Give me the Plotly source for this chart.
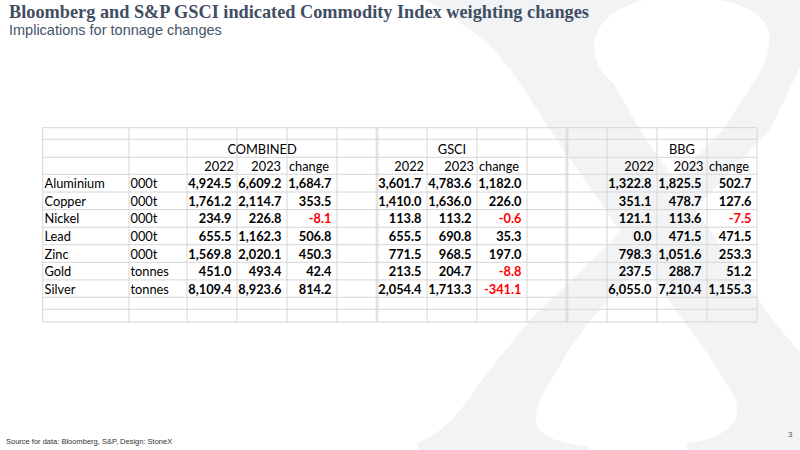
import plotly.graph_objects as go

# ---------------- data ----------------
metals = ["Aluminium", "Copper", "Nickel", "Lead", "Zinc", "Gold", "Silver"]
units = ["000t", "000t", "000t", "000t", "000t", "tonnes", "tonnes"]

combined_2022 = [4924.5, 1761.2, 234.9, 655.5, 1569.8, 451.0, 8109.4]
combined_2023 = [6609.2, 2114.7, 226.8, 1162.3, 2020.1, 493.4, 8923.6]
combined_change = [1684.7, 353.5, -8.1, 506.8, 450.3, 42.4, 814.2]

gsci_2022 = [3601.7, 1410.0, 113.8, 655.5, 771.5, 213.5, 2054.4]
gsci_2023 = [4783.6, 1636.0, 113.2, 690.8, 968.5, 204.7, 1713.3]
gsci_change = [1182.0, 226.0, -0.6, 35.3, 197.0, -8.8, -341.1]

bbg_2022 = [1322.8, 351.1, 121.1, 0.0, 798.3, 237.5, 6055.0]
bbg_2023 = [1825.5, 478.7, 113.6, 471.5, 1051.6, 288.7, 7210.4]
bbg_change = [502.7, 127.6, -7.5, 471.5, 253.3, 51.2, 1155.3]

group_names = ["COMBINED", "GSCI", "BBG"]
year_labels = ["2022", "2023", "change"]

title = "Bloomberg and S&P GSCI indicated Commodity Index weighting changes"
subtitle = "Implications for tonnage changes"
source = "Source for data: Bloomberg, S&P, Design: StoneX"
page_no = "3"

# ---------------- layout geometry ----------------
W, H = 800, 450
col_lines = [42.7, 129, 187, 237, 287, 337, 377, 427, 477, 527, 567, 607, 657, 707, 757]
double_cols = [377, 567]
row_lines = [127.7, 139.3, 157.3, 174.3, 192.0, 209.6, 227.2, 244.7, 262.3,
             279.9, 297.3, 309.3, 322.0]
data_top, row_h = 174.3, (297.3 - 174.3) / 7
row_y = [data_top + row_h * (i + 0.5) + 2.0 for i in range(len(metals))]

FONT = "Lato, 'Noto Sans', 'Liberation Sans', sans-serif"
FS = 12.8
GRID = "#d6d6d6"
XGRAY = "#f2f3f5"

fig = go.Figure()

# watermark X
xpath = ("M 425,0 L 643,0 C 615,8 596,22 594,45 C 595,65 603,75 613,83 "
         "L 640,130 L 674,179 L 723,130 L 753,83 C 768,62 772,42 768,28 "
         "C 760,12 742,4 720,0 L 800,0 L 800,67 L 770,130 L 695,209 "
         "L 773,320 L 800,353 L 800,450 L 687,450 L 687,443 "
         "C 712,440 732,432 737,415 C 738,400 733,392 727,385 L 707,353 "
         "L 683,320 L 643,263 L 590,320 L 567,353 L 547,387 "
         "C 538,402 534,415 537,425 C 541,437 560,443 588,447 L 588,450 "
         "L 418,450 L 418,443 C 440,433 455,420 477,387 L 503,353 L 530,320 "
         "L 621,232 L 550,130 L 520,83 C 505,62 490,42 467,28 C 452,16 440,7 425,0 Z")
shapes = [dict(type="path", path=xpath, xref="x", yref="y", fillcolor=XGRAY,
               line=dict(width=0), layer="below")]

for x in col_lines:
    xs = [x - 0.8, x + 0.8] if x in double_cols else [x]
    for xx in xs:
        shapes.append(dict(type="line", xref="x", yref="y", x0=xx, x1=xx,
                           y0=row_lines[0], y1=row_lines[-1],
                           line=dict(color=GRID, width=1), layer="below"))
for y in row_lines:
    shapes.append(dict(type="line", xref="x", yref="y", x0=col_lines[0], x1=col_lines[-1],
                       y0=y, y1=y, line=dict(color=GRID, width=1), layer="below"))


def fmt(v):
    return f"{v:,.1f}"


def add_col(x, texts, colors, bold=True, pos="middle left"):
    fig.add_trace(go.Scatter(
        x=[x] * len(texts), y=row_y, mode="text", text=texts,
        textposition=pos, hoverinfo="skip", showlegend=False,
        textfont=dict(family=FONT, size=FS, color=colors,
                      weight="bold" if bold else "normal")))


# row labels
add_col(44.5, metals, "#000000", bold=False, pos="middle right")
add_col(130.5, units, "#000000", bold=False, pos="middle right")

groups = [
    (combined_2022, combined_2023, combined_change, [237, 287, 337]),
    (gsci_2022, gsci_2023, gsci_change, [427, 477, 527]),
    (bbg_2022, bbg_2023, bbg_change, [657, 707, 757]),
]
for vals22, vals23, chg, rights in groups:
    for vals, r in zip((vals22, vals23, chg), rights):
        add_col(r - 5.5, [fmt(v) for v in vals],
                ["#ff0000" if v < 0 else "#000000" for v in vals])

# headers
hdr_y1 = (row_lines[1] + row_lines[2]) / 2 + 2.5
hdr_y2 = (row_lines[2] + row_lines[3]) / 2 + 2.2
group_centers = [262, 452, 682]
fig.add_trace(go.Scatter(
    x=group_centers, y=[hdr_y1] * 3, mode="text", text=group_names,
    textposition="middle center", hoverinfo="skip", showlegend=False,
    textfont=dict(family=FONT, size=FS, color="#000000")))
year_right = [(234, 281), (424, 474), (654, 703.5)]
change_left = [289, 479, 709]
for (r22, r23), cl in zip(year_right, change_left):
    fig.add_trace(go.Scatter(
        x=[r22, r23], y=[hdr_y2] * 2, mode="text", text=year_labels[:2],
        textposition="middle left", hoverinfo="skip", showlegend=False,
        textfont=dict(family=FONT, size=FS, color="#000000")))
    fig.add_trace(go.Scatter(
        x=[cl], y=[hdr_y2], mode="text", text=[year_labels[2]],
        textposition="middle right", hoverinfo="skip", showlegend=False,
        textfont=dict(family=FONT, size=FS, color="#000000")))

annotations = [
    dict(text=f"<b>{title}</b>", x=7 / W, y=1 - 12 / H, xref="paper", yref="paper",
         xanchor="left", yanchor="middle", showarrow=False,
         font=dict(family="'Liberation Serif', 'Times New Roman', serif", size=18.3, color="#3f4e62")),
    dict(text=subtitle, x=7 / W, y=1 - 30 / H, xref="paper", yref="paper",
         xanchor="left", yanchor="middle", showarrow=False,
         font=dict(family="'Liberation Sans', Arial, sans-serif", size=14.5, color="#44546a")),
    dict(text=source, x=4 / W, y=1 - 441 / H, xref="paper", yref="paper",
         xanchor="left", yanchor="middle", showarrow=False,
         font=dict(family="'Liberation Sans Narrow', 'Liberation Sans', sans-serif", size=7.5, color="#333333")),
    dict(text=page_no, x=790 / W, y=1 - 434 / H, xref="paper", yref="paper",
         xanchor="center", yanchor="middle", showarrow=False,
         font=dict(family="'Liberation Sans', sans-serif", size=8, color="#555555")),
]

fig.update_layout(
    width=W, height=H, margin=dict(l=0, r=0, t=0, b=0),
    paper_bgcolor="white", plot_bgcolor="white",
    xaxis=dict(range=[0, W], visible=False, fixedrange=True),
    yaxis=dict(range=[H, 0], visible=False, fixedrange=True),
    shapes=shapes, annotations=annotations, showlegend=False,
)

fig.write_html("out.html", config={"displayModeBar": False},
               post_script="document.body.style.margin='0px';"
                           "document.body.style.overflow='hidden';")
